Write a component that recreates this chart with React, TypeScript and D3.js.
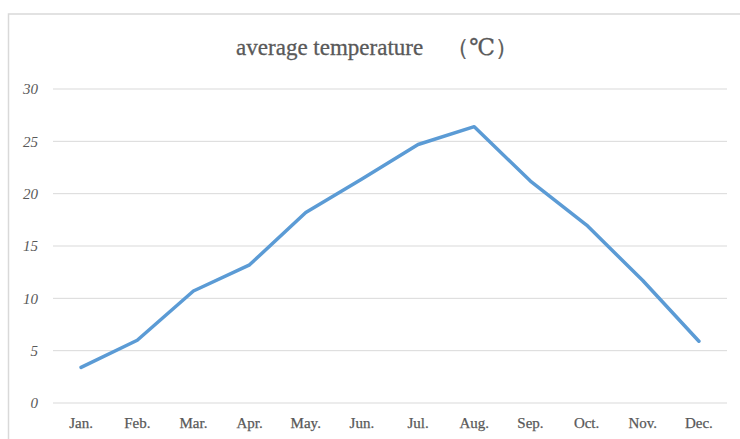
import React, { useRef, useEffect } from "react";
import * as d3 from "d3";

const width = 740;
const height = 439;
const margin = { left: 53, right: 13, top: 89, bottom: 36 }; // plot area edges
const lineColor = "#5b9bd5";
const textColor = "#595959";
const gridColor = "#d9d9d9";
const fontFamily = "Liberation Serif, DejaVu Serif, serif";

const title = "average temperature　（℃）";
const months = ["Jan.", "Feb.", "Mar.", "Apr.", "May.", "Jun.", "Jul.", "Aug.", "Sep.", "Oct.", "Nov.", "Dec."];
const temps = [3.4, 6.0, 10.7, 13.2, 18.2, 21.4, 24.7, 26.4, 21.2, 17.0, 11.7, 5.9];
const yTicks = [0, 5, 10, 15, 20, 25, 30];

const App = () => {
  const container = useRef<SVGSVGElement>(null);

  useEffect(() => {
    if (!container.current) return;
    const svg = d3.select(container.current);
    svg.selectAll("*").remove();

    const x = d3
      .scaleBand()
      .domain(months)
      .range([margin.left, width - margin.right]);
    const y = d3
      .scaleLinear()
      .domain([0, 30])
      .range([height - margin.bottom, margin.top]);

    // outer chart border (runs off the page on right and bottom)
    svg
      .append("rect")
      .attr("x", 8.5)
      .attr("y", 14)
      .attr("width", 760)
      .attr("height", 460)
      .attr("fill", "white")
      .attr("stroke", gridColor)
      .attr("stroke-width", 1.5);

    svg
      .append("text")
      .attr("x", 377)
      .attr("y", 55)
      .attr("text-anchor", "middle")
      .style("font-family", fontFamily)
      .style("font-size", "23px")
      .attr("fill", textColor)
      .attr("stroke", textColor)
      .attr("stroke-width", 0.3)
      .text(title);

    // gridlines
    svg
      .append("g")
      .selectAll("line")
      .data(yTicks)
      .join("line")
      .attr("x1", margin.left)
      .attr("x2", width - margin.right)
      .attr("y1", (d) => y(d))
      .attr("y2", (d) => y(d))
      .attr("stroke", gridColor)
      .attr("stroke-width", 1);

    const yAxis = d3.axisLeft(y).tickValues(yTicks).tickSize(0).tickPadding(0);
    const gy = svg
      .append("g")
      .attr("transform", `translate(${margin.left - 15}, 0)`)
      .call(yAxis as never);
    gy.select(".domain").remove();
    gy.selectAll("text")
      .style("font-family", fontFamily)
      .style("font-style", "italic")
      .style("font-size", "15px")
      .attr("fill", textColor);

    const xAxis = d3.axisBottom(x).tickSize(0).tickPadding(14);
    const gx = svg
      .append("g")
      .attr("transform", `translate(0, ${height - margin.bottom})`)
      .call(xAxis as never);
    gx.select(".domain").remove();
    gx.selectAll("text")
      .style("font-family", fontFamily)
      .style("font-size", "15px")
      .attr("fill", textColor)
      .attr("stroke", textColor)
      .attr("stroke-width", 0.25);

    const line = d3
      .line<number>()
      .x((_, i) => (x(months[i]) as number) + x.bandwidth() / 2)
      .y((d) => y(d));

    svg
      .append("path")
      .datum(temps)
      .attr("d", line)
      .attr("fill", "none")
      .attr("stroke", lineColor)
      .attr("stroke-width", 3.5)
      .attr("stroke-linejoin", "round")
      .attr("stroke-linecap", "round");
  }, []);

  return (
    <svg
      ref={container}
      width={width}
      height={height}
      style={{ position: "absolute", left: 0, top: 0, background: "white" }}
    />
  );
};

export default App;
